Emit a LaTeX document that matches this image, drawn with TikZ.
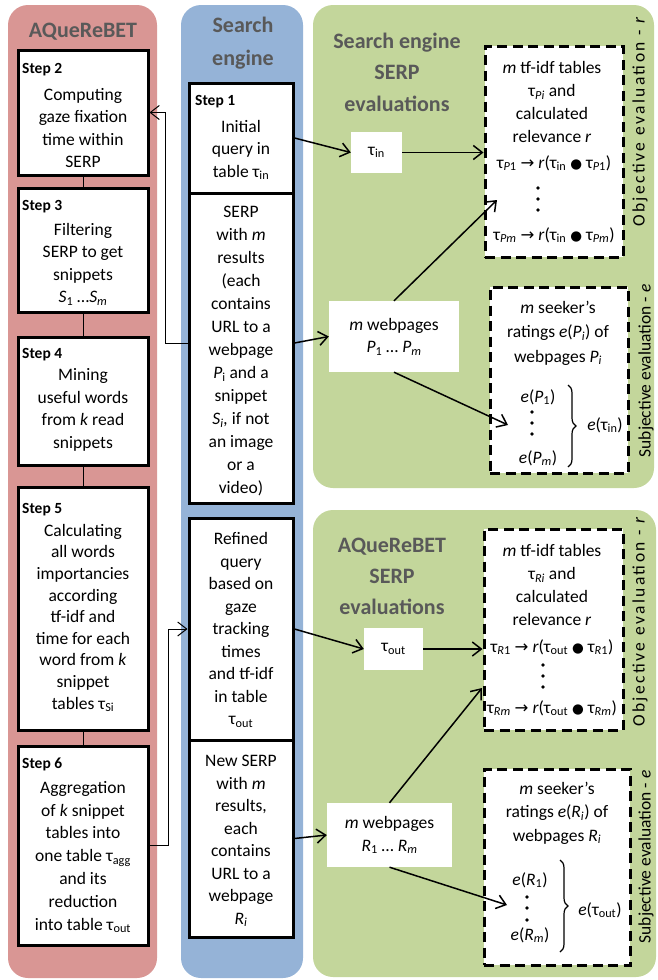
\documentclass[tikz,border=0pt]{standalone}
\usepackage{fontspec}
\setmainfont{Carlito}
\newfontfamily\dejavu{DejaVu Sans}
\usetikzlibrary{arrows.meta,decorations.pathreplacing}
\definecolor{redpanel}{HTML}{D99694}
\definecolor{bluepanel}{HTML}{95B3D7}
\definecolor{greenpanel}{HTML}{C3D69B}
\definecolor{titlegray}{HTML}{595959}
\newcommand{\tsub}[1]{\textsubscript{#1}}
\newcommand{\arrsym}{{\dejavu\fontsize{16.5}{16.5}\selectfont →}}
\newcommand{\dotsym}{{\dejavu\fontsize{13.5}{13.5}\selectfont ●}}
\newcommand{\bodysize}{\fontsize{17.5}{22.5}\selectfont}
\begin{document}
\begin{tikzpicture}[x=1pt,y=-1pt,
  panel/.style={rounded corners=20pt},
  ptitle/.style={font=\fontsize{22}{32}\selectfont\bfseries, text=titlegray, align=center, inner sep=0pt},
  stepbox/.style={draw, line width=3pt, fill=white, inner sep=0pt},
  plainbox/.style={fill=white, inner sep=0pt},
  dashbox/.style={draw, line width=3pt, fill=white, dash pattern=on 10pt off 5.5pt, inner sep=0pt},
  steplabel/.style={font=\fontsize{15.5}{18}\selectfont\bfseries, inner sep=0pt, anchor=base west},
  body/.style={font=\bodysize, align=center, inner sep=0pt},
  sidelabel/.style={font=\fontsize{17.5}{20}\selectfont, rotate=90, inner sep=0pt},
  mainarrow/.style={line width=1.5pt, -{Straight Barb[length=9pt,width=14pt]}},
  fbarrow/.style={line width=1pt, -{Straight Barb[length=9pt,width=14pt]}},
  link/.style={line width=1pt},
  bracestyle/.style={line width=1.2pt, decorate, decoration={brace, amplitude=8pt}},
  vdot/.style={fill=black}
]
\useasboundingbox (0,0) rectangle (657,980);
% panels
\fill[redpanel, panel] (8,5) rectangle (157,978);
\fill[bluepanel, panel] (181,5) rectangle (303,978);
\fill[greenpanel, panel] (313,5) rectangle (654,488);
\fill[greenpanel, panel] (313,510) rectangle (656,977);

% titles
\node[ptitle] (tred) at (83,32) {AQueReBET};
\node[ptitle, font=\fontsize{22}{33}\selectfont\bfseries] (tblue) at (243,43) {Search\\engine};
\node[ptitle, font=\fontsize{22}{31.5}\selectfont\bfseries] (tgreen1) at (397,72) {Search engine\\SERP\\evaluations};
\node[ptitle, font=\fontsize{22}{31}\selectfont\bfseries] (tgreen2) at (392,576) {AQueReBET\\SERP\\evaluations};

% red step boxes
\node[stepbox, minimum width=130pt, minimum height=125pt] (s2) at (83,112.5) {};
\node[stepbox, minimum width=130pt, minimum height=124pt] (s3) at (83,250) {};
\node[stepbox, minimum width=130pt, minimum height=128pt] (s4) at (83,401) {};
\node[stepbox, minimum width=130pt, minimum height=243pt] (s5) at (83,608.5) {};
\node[stepbox, minimum width=130pt, minimum height=199pt] (s6) at (83,845.5) {};

\node[steplabel] (l2) at (22,73) {Step 2};
\node[steplabel] (l3) at (22,210) {Step 3};
\node[steplabel] (l4) at (22,358) {Step 4};
\node[steplabel] (l5) at (22,513) {Step 5};
\node[steplabel] (l6) at (22,768) {Step 6};

\node[body] (b2) at (83,128) {Computing\\gaze fixation\\time within\\SERP};
\node[body] (b3) at (83,264) {Filtering\\SERP to get\\snippets\\\textit{S}\tsub{1} …\textit{S}\tsub{\textit{m}}};
\node[body] (b4) at (83,410) {Mining\\useful words\\from \textit{k} read\\snippets};
\node[body, font=\fontsize{17.5}{21.6}\selectfont] (b5) at (83,618) {Calculating\\all words\\importancies\\according\\tf-idf and\\time for each\\word from \textit{k}\\snippet\\tables τ\tsub{Si}};
\node[body, font=\fontsize{17.5}{22.8}\selectfont] (b6) at (83,857) {Aggregation\\of \textit{k} snippet\\tables into\\one table τ\tsub{agg}\\and its\\reduction\\into table τ\tsub{out}};

% blue boxes
\node[stepbox, minimum width=104pt, minimum height=110pt] (s1) at (241,138) {};
\node[stepbox, minimum width=104pt, minimum height=310pt] (serp) at (241,348) {};
\node[stepbox, minimum width=104pt, minimum height=222pt] (refined) at (241,629) {};
\node[stepbox, minimum width=104pt, minimum height=197pt] (newserp) at (241,838.5) {};

\node[steplabel] (l1) at (195,105) {Step 1};
\node[body] (b1) at (241,150) {Initial\\query in\\table τ\tsub{in}};
\node[body, font=\fontsize{17.5}{23}\selectfont] (bserp) at (241,351) {SERP\\with \textit{m}\\results\\(each\\contains\\URL to a\\webpage\\\textit{P}\tsub{i} and a\\snippet\\\textit{S\tsub{i},} if not\\an image\\or a\\video)};
\node[body] (brefined) at (241,630) {Refined\\query\\based on\\gaze\\tracking\\times\\and tf-idf\\in table\\τ\tsub{out}};
\node[body] (bnew) at (241,841) {New SERP\\with \textit{m}\\results,\\each\\contains\\URL to a\\webpage\\\textit{R\tsub{i}}};

% green: white boxes
\node[plainbox, minimum width=51pt, minimum height=41pt, font=\bodysize] (tin) at (376.5,152.5) {τ\tsub{in}};
\node[plainbox, minimum width=130pt, minimum height=71pt, font=\bodysize, align=center] (wp) at (394,336.5) {\textit{m} webpages\\\textit{P}\tsub{1} … \textit{P}\tsub{\textit{m}}};
\node[plainbox, minimum width=59pt, minimum height=42pt, font=\bodysize] (tout) at (393.5,649) {τ\tsub{out}};
\node[plainbox, minimum width=125pt, minimum height=64pt, font=\bodysize, align=center] (wr) at (389.5,835) {\textit{m} webpages\\\textit{R}\tsub{1} … \textit{R}\tsub{\textit{m}}};

% dashed boxes
\node[dashbox, minimum width=138pt, minimum height=211pt] (d1) at (554,151.5) {};
\node[dashbox, minimum width=138pt, minimum height=186pt] (d2) at (559,380) {};
\node[dashbox, minimum width=139pt, minimum height=201pt] (d3) at (553.5,629.5) {};
\node[dashbox, minimum width=146pt, minimum height=196pt] (d4) at (557,867) {};

% d1 contents
\node[body, font=\fontsize{17.5}{23}\selectfont] (d1t) at (552,102) {\textit{m} tf-idf tables\\τ\tsub{\textit{Pi}} and\\calculated\\relevance \textit{r}};
\node[body] (f1a) at (554,163) {τ\tsub{\textit{P}1} \arrsym{} \textit{r}(τ\tsub{in} \dotsym{} τ\tsub{\textit{P}1})};
\node[body] (f1b) at (554,235) {τ\tsub{\textit{Pm}} \arrsym{} \textit{r}(τ\tsub{in} \dotsym{} τ\tsub{\textit{Pm}})};
\fill[vdot] (538,188) circle (1.9pt) (538,199) circle (1.9pt) (538,210) circle (1.9pt);

% d2 contents
\node[body, font=\fontsize{17.5}{24.5}\selectfont] (d2t) at (558,333) {\textit{m} seeker’s\\ratings \textit{e}(\textit{P\tsub{i}}) of\\webpages \textit{P\tsub{i}}};
\node[body] (ep1) at (538,397) {\textit{e}(\textit{P}\tsub{1})};
\node[body] (epm) at (538,458) {\textit{e}(\textit{P\tsub{m}})};
\fill[vdot] (532,412) circle (1.9pt) (532,423) circle (1.9pt) (532,434) circle (1.9pt);
\draw[bracestyle] (568,385) -- (568,467);
\node[body] (etin) at (605,425) {\textit{e}(τ\tsub{in})};

% d3 contents
\node[body, font=\fontsize{17.5}{23}\selectfont] (d3t) at (552,585) {\textit{m} tf-idf tables\\τ\tsub{\textit{Ri}} and\\calculated\\relevance \textit{r}};
\node[body] (f3a) at (552,647) {τ\tsub{\textit{R}1} \arrsym{} \textit{r}(τ\tsub{out} \dotsym{} τ\tsub{\textit{R}1})};
\node[body] (f3b) at (552,708) {τ\tsub{\textit{Rm}} \arrsym{} \textit{r}(τ\tsub{out} \dotsym{} τ\tsub{\textit{Rm}})};
\fill[vdot] (543,665) circle (1.9pt) (543,676) circle (1.9pt) (543,687) circle (1.9pt);

% d4 contents
\node[body, font=\fontsize{17.5}{23.5}\selectfont] (d4t) at (557,813) {\textit{m} seeker’s\\ratings \textit{e}(\textit{R\tsub{i}}) of\\webpages \textit{R\tsub{i}}};
\node[body] (er1) at (530,880) {\textit{e}(\textit{R}\tsub{1})};
\node[body] (erm) at (530,935) {\textit{e}(\textit{R\tsub{m}})};
\fill[vdot] (527,897) circle (1.9pt) (527,908) circle (1.9pt) (527,920) circle (1.9pt);
\draw[bracestyle] (560,860) -- (560,952);
\node[body] (etout) at (600,910) {\textit{e}(τ\tsub{out})};

% side labels
\node[sidelabel, font=\fontsize{17.5}{20}\selectfont\addfontfeatures{LetterSpace=14}] (obj1) at (640,121) {Objective evaluation - \textit{r}};
\node[sidelabel] (subj1) at (646,371) {Subjective evaluation - \textit{e}};
\node[sidelabel, font=\fontsize{17.5}{20}\selectfont\addfontfeatures{LetterSpace=14}] (obj2) at (640,621) {Objective evaluation - \textit{r}};
\node[sidelabel] (subj2) at (646,857) {Subjective evaluation - \textit{e}};

% step links
\draw[link] (s2.south) -- (s3.north);
\draw[link] (s3.south) -- (s4.north);
\draw[link] (s4.south) -- (s5.north);
\draw[link] (s5.south) -- (s6.north);

% free ends
\coordinate (d1in) at (497,200);
\coordinate (d2in) at (508,425);
\coordinate (d3in) at (482,688);
\coordinate (d4in) at (507,905);

% main arrows
\draw[mainarrow] (s1.east) -- (tin.west);
\draw[mainarrow] (tin.east) -- (tin.east -| d1.west);
\draw[mainarrow] ([yshift=5pt]serp.east) -- (wp.west);
\draw[mainarrow] (wp.north) -- (d1in);
\draw[mainarrow] (wp.south) -- (d2in);
\draw[mainarrow] (refined.east) -- (tout.west);
\draw[mainarrow] (tout.east) -- (tout.east -| d3.west);
\draw[mainarrow] (newserp.east) -- (wr.west);
\draw[mainarrow] (wr.north) -- (d3in);
\draw[mainarrow] (wr.south) -- (d4in);

% feedback arrows
\draw[fbarrow] ([yshift=5pt]serp.west) -- ++(-22,0) |- (s2.east);
\draw[fbarrow] (s6.east) -- ++(19,0) |- (refined.west);
\end{tikzpicture}
\end{document}
